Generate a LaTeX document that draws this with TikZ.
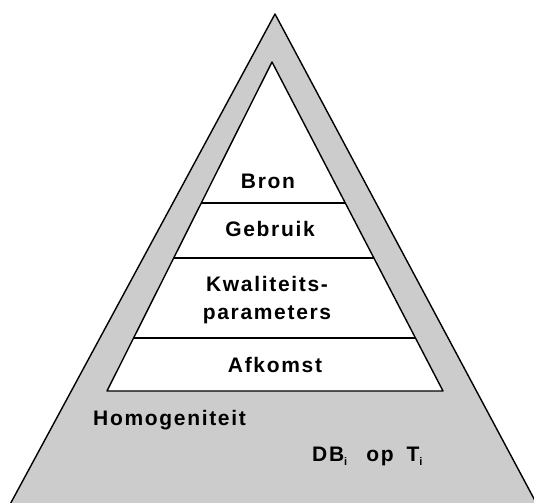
\documentclass[tikz,border=0pt]{standalone}
\usepackage{fontspec}
\setmainfont{Liberation Sans}
\newfontfamily\spaced[LetterSpace=8]{Liberation Sans}
\usetikzlibrary{calc}
\definecolor{pyrgray}{RGB}{204,204,204}
\tikzset{
  edge/.style={draw=black, line width=1.4pt, line join=round},
  layerline/.style={draw=black, line width=1.3pt},
  lab/.style={inner sep=0pt, anchor=base, font=\spaced\bfseries\fontsize{21}{27.6}\selectfont, align=center},
}
\newcommand{\lowi}{\raisebox{-0.3ex}{\fontsize{11}{11}\selectfont i}}
\begin{document}
\begin{tikzpicture}[x=1pt,y=-1pt]
  \useasboundingbox (0,0) rectangle (534,502);
  \clip (0,0) rectangle (534,502);
  % outer pyramid, base runs below the page edge
  \coordinate (oa) at (275,14);
  \coordinate (ol) at (7,510);
  \coordinate (or) at (540,510);
  \path[edge, fill=pyrgray] (oa) -- (or) -- (ol) -- cycle;
  % inner pyramid
  \coordinate (ia) at (272,62);
  \coordinate (il) at (107,391);
  \coordinate (ir) at (443,391);
  \path[edge, fill=white] (ia) -- (ir) -- (il) -- cycle;
  % layer boundaries
  \foreach \t/\n in {0.4286/a, 0.5957/b, 0.8389/c}{
    \coordinate (l\n) at ($(ia)!\t!(il)$);
    \coordinate (r\n) at ($(ia)!\t!(ir)$);
    \draw[layerline] (l\n) -- (r\n);
  }
  % labels (a multi-line node sits on the baseline of its last line)
  \node[lab] (bron) at (268,189) {Bron};
  \node[lab] (gebruik) at (270,236.7) {Gebruik};
  \node[lab] (kwal) at (267,319.3) {Kwaliteits-\\parameters};
  \node[lab] (afkomst) at (275,372.3) {Afkomst};
  \node[lab, anchor=base west] (homog) at (93,425.7) {Homogeniteit};
  \node[lab, anchor=base west] (dbop) at (312,461.7) {DB\lowi\hspace{19pt}op\hspace{13pt}T\lowi};
\end{tikzpicture}
\end{document}
